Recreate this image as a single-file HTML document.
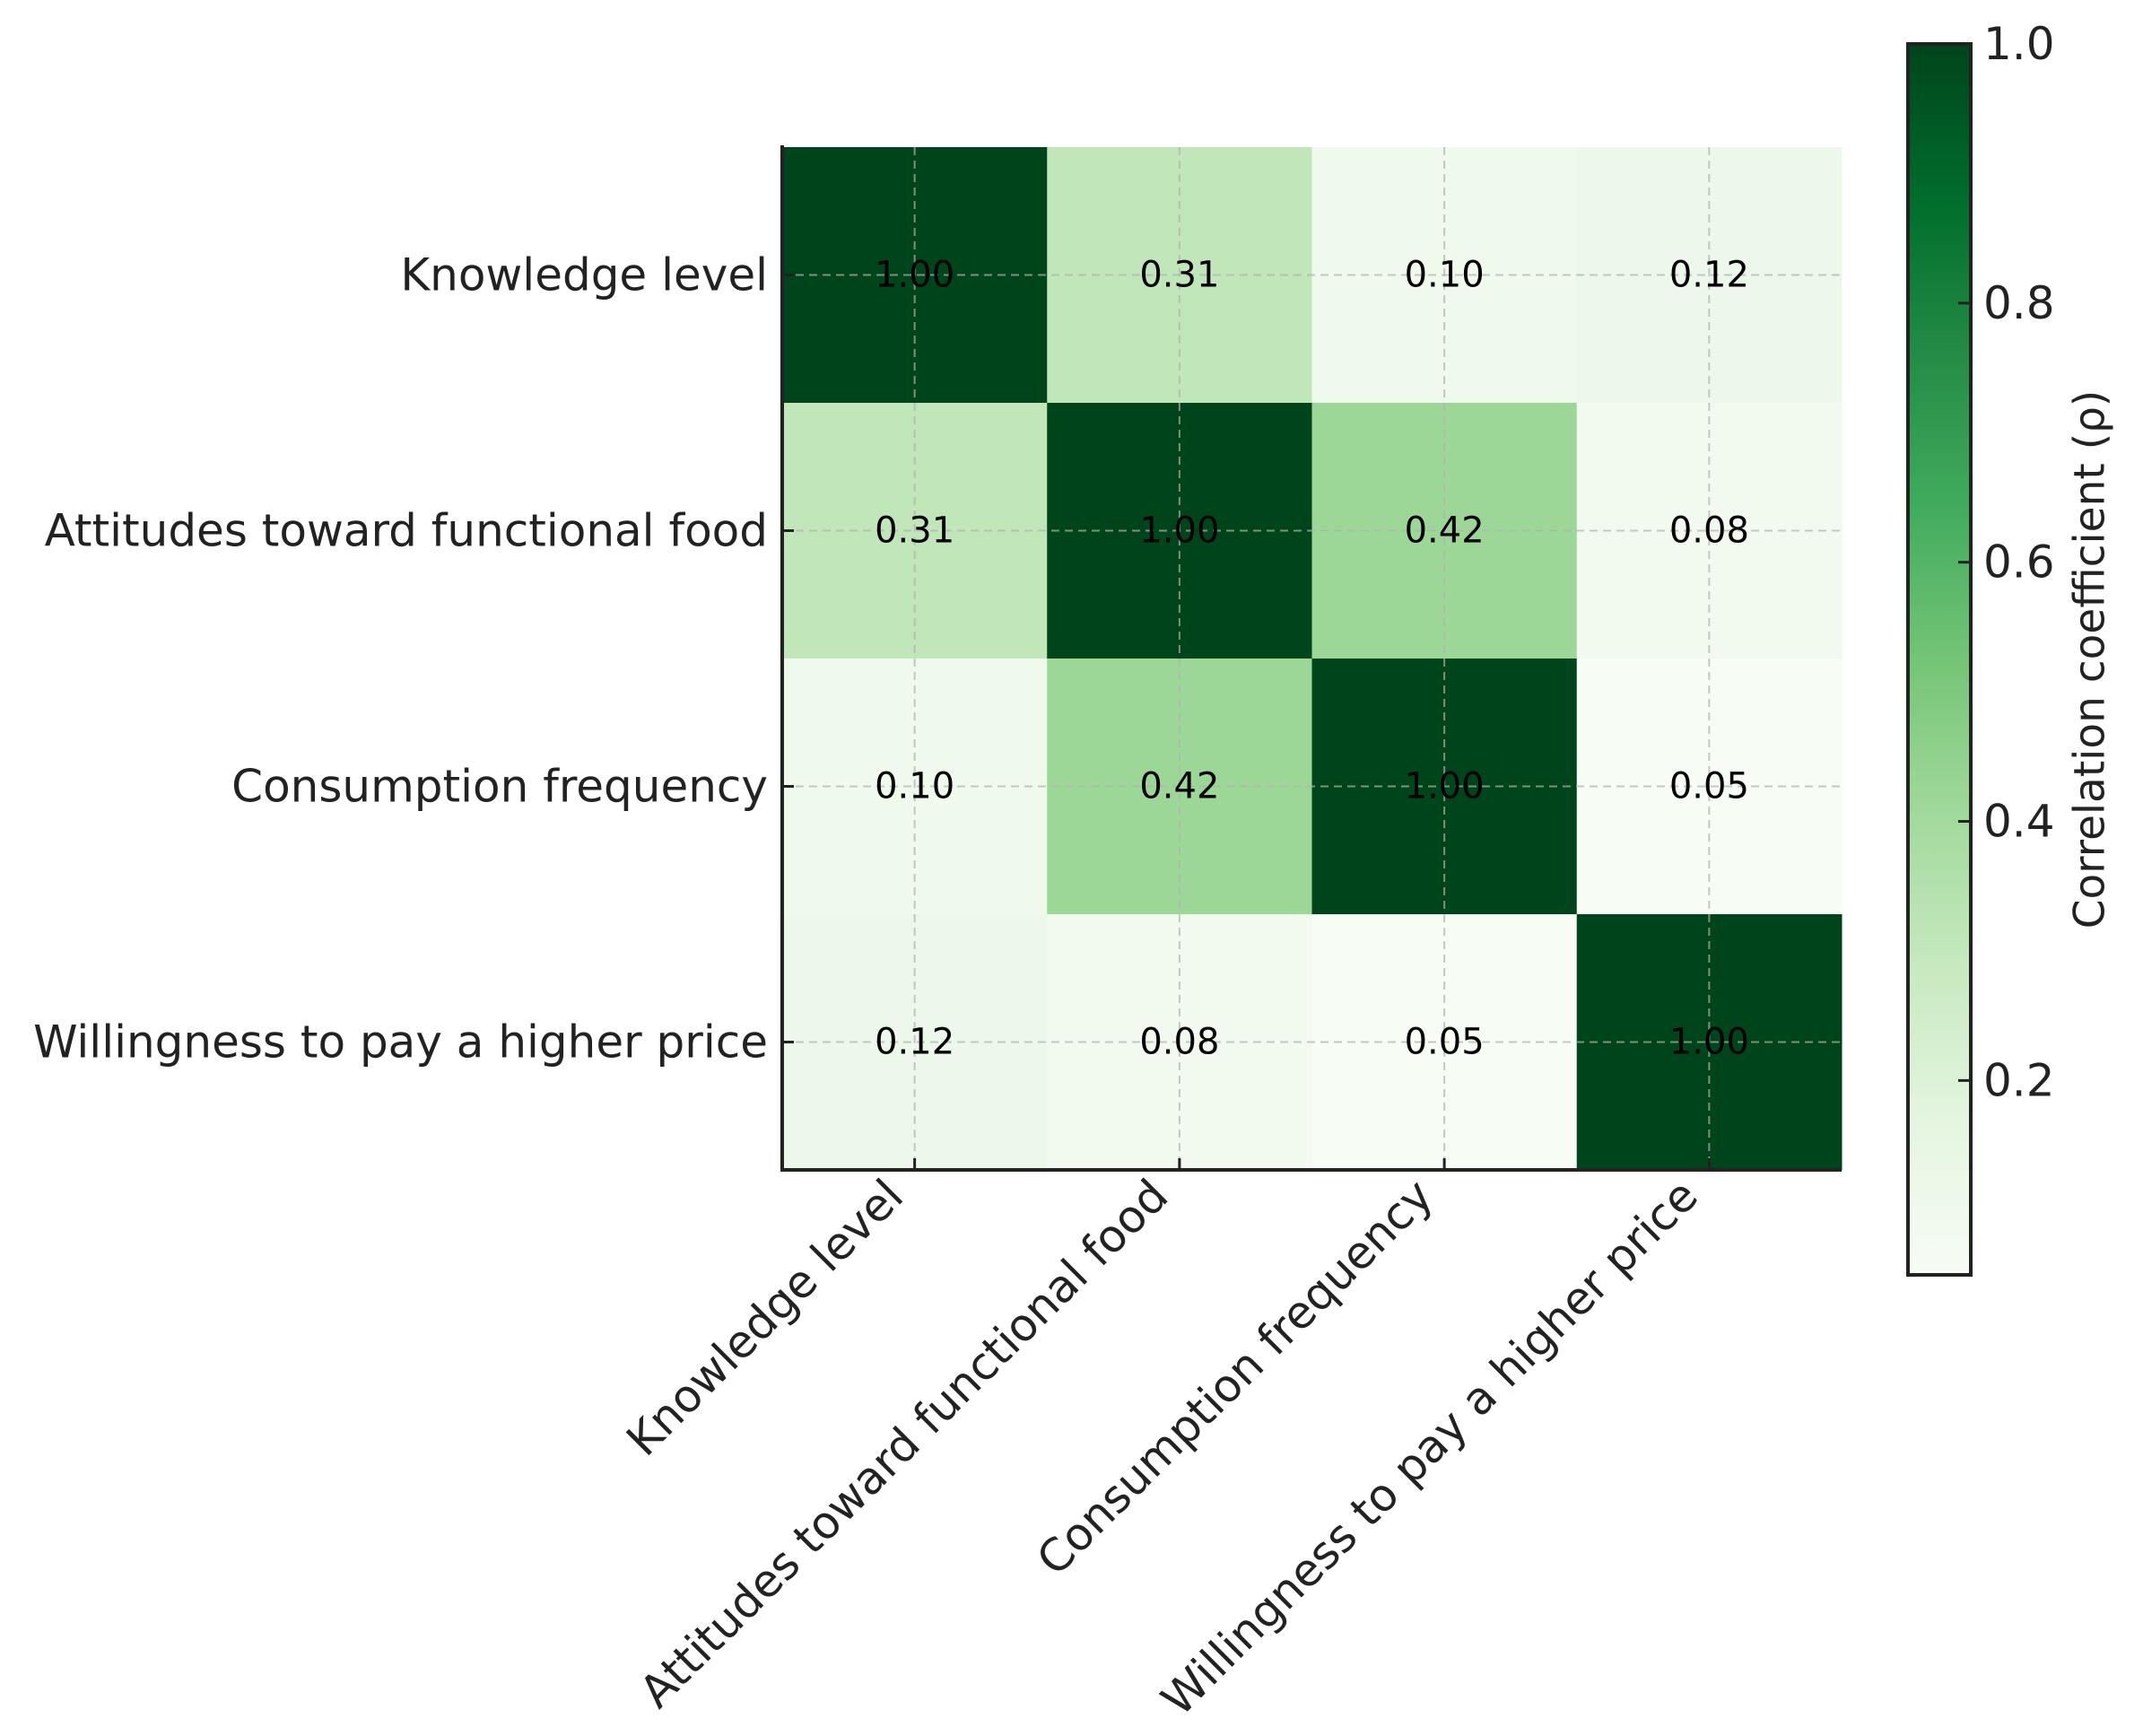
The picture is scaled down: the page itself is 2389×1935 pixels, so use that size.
<!DOCTYPE html>
<html><head><meta charset="utf-8"><style>
html,body{margin:0;padding:0;background:#fff;}
svg{display:block;font-family:"DejaVu Sans","Liberation Sans",sans-serif;}
</style></head><body>
<svg id="chart" width="2389" height="1935" viewBox="0 0 2389 1935" xmlns="http://www.w3.org/2000/svg">
<rect width="2389" height="1935" fill="#fff"/>
<g id="cells"></g><g id="grid"></g><g id="annots"></g><g id="axes"></g><g id="cbar"></g>
</svg>
<script>
const categories = ["Knowledge level","Attitudes toward functional food","Consumption frequency","Willingness to pay a higher price"];
const row0 = [1.00, 0.31, 0.10, 0.12];
const row1 = [0.31, 1.00, 0.42, 0.08];
const row2 = [0.10, 0.42, 1.00, 0.05];
const row3 = [0.12, 0.08, 0.05, 1.00];
const colorTicks = [0.2, 0.4, 0.6, 0.8, 1.0];
const vmin = 0.05, vmax = 1.0;

const matrix = [row0,row1,row2,row3];
const NS = "http://www.w3.org/2000/svg";
const L = 872, R = 2053, T = 164, B = 1304;
const n = categories.length;
const cw = (R-L)/n, ch = (B-T)/n;
const xs = i => L + cw*i;
const ys = j => T + ch*j;
const greens = ["#f7fcf5","#e5f5e0","#c7e9c0","#a1d99b","#74c476","#41ab5d","#238b45","#006d2c","#00441b"];
function hex(h){return [1,3,5].map(k=>parseInt(h.substr(k,2),16));}
function cmap(v){
  let t = Math.max(0,Math.min(1,(v-vmin)/(vmax-vmin)))*(greens.length-1);
  let i = Math.min(greens.length-2, Math.floor(t)), f = t-i;
  const a = hex(greens[i]), b = hex(greens[i+1]);
  return "rgb("+a.map((c,k)=>Math.round(c+(b[k]-c)*f)).join(",")+")";
}
function mk(tag, attrs, parent){
  const e = document.createElementNS(NS, tag);
  for (const k in attrs) e.setAttribute(k, attrs[k]);
  parent.appendChild(e); return e;
}
const gC = document.getElementById("cells"), gG = document.getElementById("grid"),
      gA = document.getElementById("annots"), gX = document.getElementById("axes"), gB = document.getElementById("cbar");
matrix.forEach((row,j)=>row.forEach((v,i)=>{
  const r = mk("rect",{x:xs(i),y:ys(j),width:cw+0.5,height:ch+0.5,fill:cmap(v)},gC);
  
  
  const t = mk("text",{x:xs(i)+cw/2,y:ys(j)+ch/2,"text-anchor":"middle","dominant-baseline":"central","font-size":"40",fill:"#000"},gA);
  t.textContent = v.toFixed(2);
  
  
}));
for (let i=0;i<n;i++){
  const cx = xs(i)+cw/2, cy = ys(i)+ch/2;
  const gv = mk("line",{x1:cx,y1:T,x2:cx,y2:B,stroke:"#b0b0b0","stroke-opacity":"0.7","stroke-width":"2","stroke-dasharray":"9,6"},gG);
  
  
  const gh = mk("line",{x1:L,y1:cy,x2:R,y2:cy,stroke:"#b0b0b0","stroke-opacity":"0.7","stroke-width":"2","stroke-dasharray":"9,6"},gG);
  
  
  const tx = mk("line",{x1:cx,y1:B,x2:cx,y2:B-13,stroke:"#222","stroke-width":"3"},gX);
  
  
  const ty = mk("line",{x1:L,y1:cy,x2:L+13,y2:cy,stroke:"#222","stroke-width":"3"},gX);
  
  
  const yl = mk("text",{x:L-16,y:cy,"text-anchor":"end","dominant-baseline":"central","font-size":"50",fill:"#222"},gX);
  yl.textContent = categories[i];
  
  
  const px = cx-10, py = 1336;
  const xl = mk("text",{x:px,y:py,"text-anchor":"end","font-size":"50",fill:"#222",transform:"rotate(-45 "+px+" "+py+")"},gX);
  xl.textContent = categories[i];
  
  
}
const sl = mk("line",{x1:L,y1:T-2,x2:L,y2:B+2,stroke:"#222","stroke-width":"4"},gX);


const sb = mk("line",{x1:L-2,y1:B,x2:R,y2:B,stroke:"#222","stroke-width":"4"},gX);



// colorbar
const CL = 2127, CR = 2197, CT = 49, CB = 1421;
const cy = v => CB - (v-vmin)/(vmax-vmin)*(CB-CT);
const defs = mk("defs",{},gB);
const grad = mk("linearGradient",{id:"cg",x1:"0",y1:"1",x2:"0",y2:"0"},defs);
greens.forEach((c,k)=>mk("stop",{offset:(k/(greens.length-1)).toString(),"stop-color":c},grad));
const cbr = mk("rect",{x:CL,y:CT,width:CR-CL,height:CB-CT,fill:"url(#cg)",stroke:"#222","stroke-width":"4"},gB);


colorTicks.forEach(v=>{
  const y = cy(v);
  const tk = mk("line",{x1:CR,y1:y,x2:CR-14,y2:y,stroke:"#222","stroke-width":"3"},gB);
  
  
  const tl = mk("text",{x:CR+14,y:y,"dominant-baseline":"central","font-size":"50",fill:"#222"},gB);
  tl.textContent = v.toFixed(1);
  
  
});
const cl = mk("text",{x:2330,y:(CT+CB)/2,"text-anchor":"middle","dominant-baseline":"central","font-size":"47",fill:"#222",transform:"rotate(-90 2330 "+((CT+CB)/2)+")"},gB);
cl.textContent = "Correlation coefficient (ρ)";


</script>
</body></html>
